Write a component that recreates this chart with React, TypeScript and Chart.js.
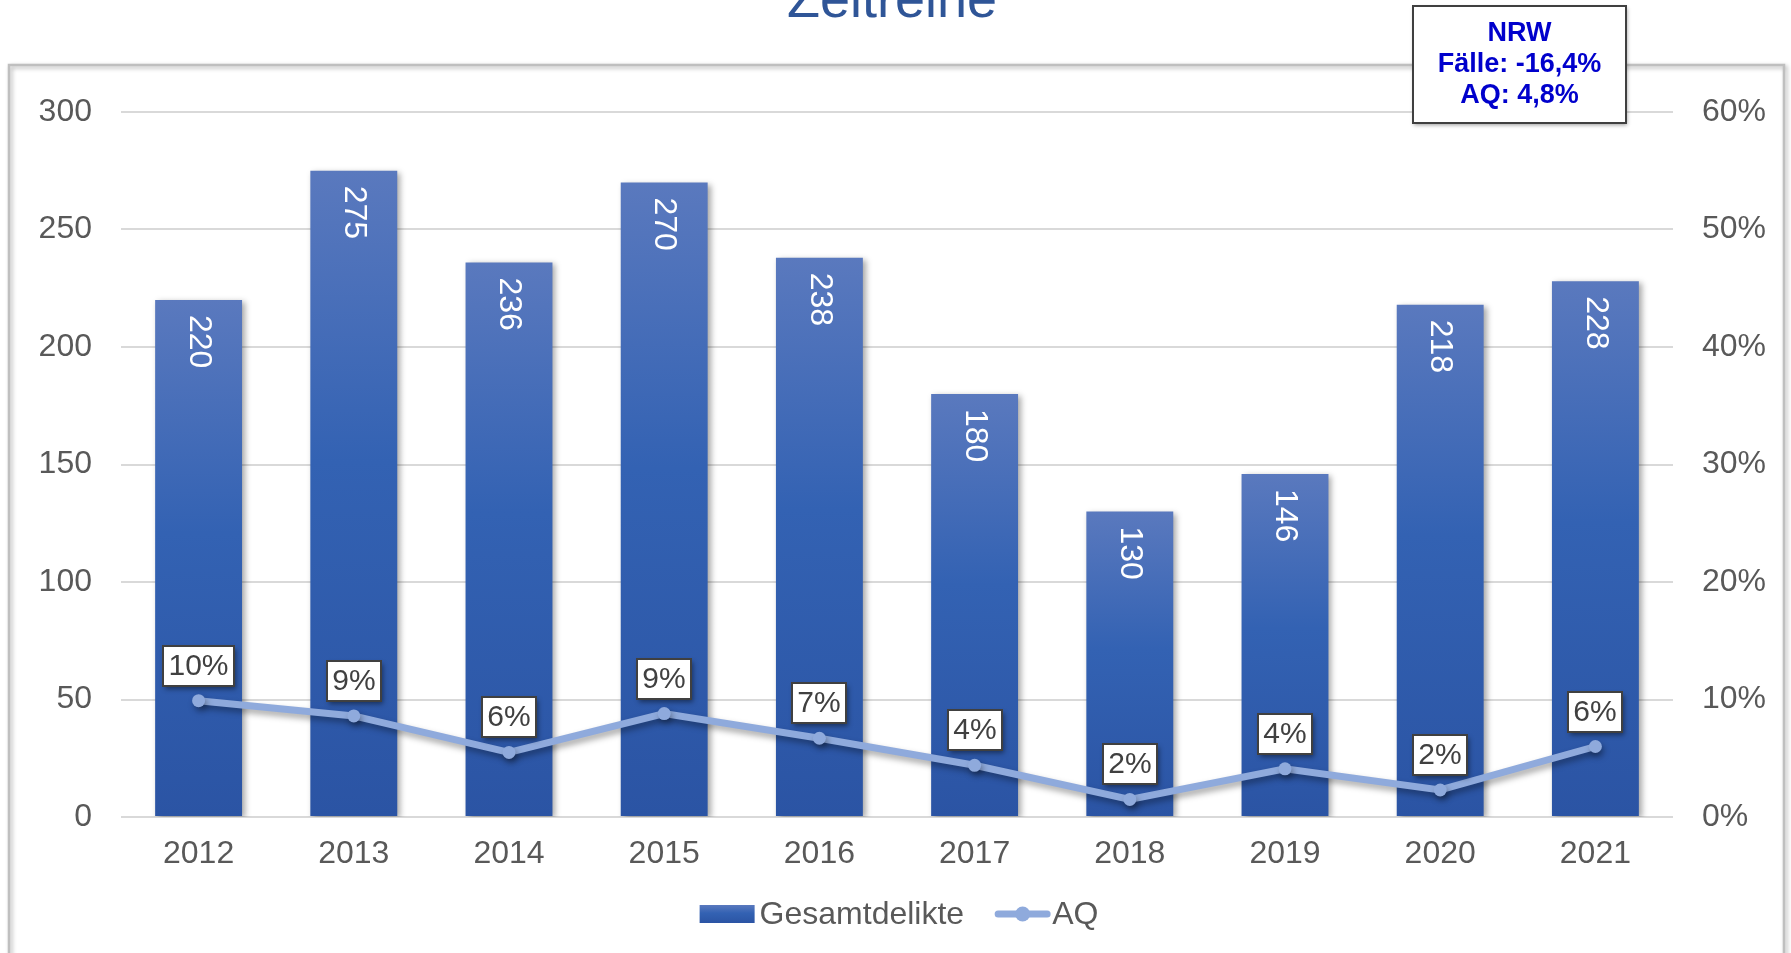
import React, { useEffect, useRef } from 'react';
import { Chart, registerables } from 'chart.js';

Chart.register(...registerables);

// ---------- data ----------
const categories = ['2012', '2013', '2014', '2015', '2016', '2017', '2018', '2019', '2020', '2021'];
const gesamtdelikte = [220, 275, 236, 270, 238, 180, 130, 146, 218, 228];
const aqPercent = [9.9, 8.6, 5.5, 8.8, 6.7, 4.4, 1.5, 4.1, 2.3, 6.0];
const seriesNames = ['Gesamtdelikte', 'AQ'];
const titleText = 'Zeitreihe';
const infoLines = ['NRW', 'Fälle: -16,4%', 'AQ: 4,8%'];
const leftAxis = { min: 0, max: 300, step: 50 };
const rightAxis = { min: 0, max: 60, step: 10 };

// ---------- style ----------
const FONT = "'Liberation Sans', Arial, Helvetica, sans-serif";
const W = 1791;
const H = 953;
const AXIS_GRAY = '#595959';
const LINE_COLOR = '#8FAADC';

function barGradient(c: CanvasRenderingContext2D, top: number, bottom: number) {
  if (!isFinite(top) || !isFinite(bottom) || top === bottom) return '#3362B3';
  const g = c.createLinearGradient(0, top, 0, bottom);
  g.addColorStop(0, '#5A79BE');
  g.addColorStop(0.45, '#3362B3');
  g.addColorStop(1, '#2B54A4');
  return g;
}

const backgroundPlugin = {
  id: 'bgFrame',
  beforeDraw(chart: any) {
    const ctx = chart.ctx as CanvasRenderingContext2D;
    ctx.save();
    ctx.fillStyle = '#ffffff';
    ctx.fillRect(0, 0, chart.width, chart.height);
    ctx.shadowColor = 'rgba(0,0,0,0.3)';
    ctx.shadowBlur = 4;
    ctx.shadowOffsetX = 2;
    ctx.shadowOffsetY = 2;
    ctx.strokeStyle = '#BFBFBF';
    ctx.lineWidth = 2.5;
    ctx.strokeRect(9, 65, 1775, 1000);
    ctx.restore();
  },
};

const shadowPlugin = {
  id: 'dsShadow',
  beforeDatasetDraw(chart: any, args: any) {
    const ctx = chart.ctx as CanvasRenderingContext2D;
    ctx.save();
    if (args.index === 0) {
      ctx.shadowColor = 'rgba(0,0,0,0.35)';
      ctx.shadowBlur = 6;
      ctx.shadowOffsetX = 3;
      ctx.shadowOffsetY = 2;
    } else {
      ctx.shadowColor = 'rgba(0,0,0,0.35)';
      ctx.shadowBlur = 6;
      ctx.shadowOffsetX = 2;
      ctx.shadowOffsetY = 4;
    }
  },
  afterDatasetDraw(chart: any) {
    chart.ctx.restore();
  },
};

const labelsPlugin = {
  id: 'valueLabels',
  afterDatasetsDraw(chart: any) {
    const ctx = chart.ctx as CanvasRenderingContext2D;
    ctx.save();
    // bar values, rotated inside top of bars
    const barMeta = chart.getDatasetMeta(0);
    ctx.font = `32px ${FONT}`;
    ctx.fillStyle = '#ffffff';
    ctx.textAlign = 'left';
    ctx.textBaseline = 'middle';
    barMeta.data.forEach((el: any, i: number) => {
      ctx.save();
      ctx.translate(el.x, el.y + 15);
      ctx.rotate(Math.PI / 2);
      ctx.fillText(String(gesamtdelikte[i]), 0, 0);
      ctx.restore();
    });
    // line labels in boxes
    const lineMeta = chart.getDatasetMeta(1);
    ctx.font = `30px ${FONT}`;
    lineMeta.data.forEach((el: any, i: number) => {
      const txt = Math.round(aqPercent[i]) + '%';
      const tw = ctx.measureText(txt).width;
      const w = Math.round(tw + 11);
      const h = 40;
      const bx = Math.round(el.x - w / 2);
      const by = Math.round(el.y - 15 - h);
      ctx.save();
      ctx.shadowColor = 'rgba(0,0,0,0.45)';
      ctx.shadowBlur = 5;
      ctx.shadowOffsetX = 2;
      ctx.shadowOffsetY = 3;
      ctx.fillStyle = '#ffffff';
      ctx.fillRect(bx, by, w, h);
      ctx.restore();
      ctx.strokeStyle = '#404040';
      ctx.lineWidth = 2;
      ctx.strokeRect(bx, by, w, h);
      ctx.textAlign = 'center';
      ctx.textBaseline = 'middle';
      ctx.fillStyle = '#404040';
      ctx.fillText(txt, bx + w / 2, by + h / 2 + 1);
    });
    ctx.restore();
  },
};

const decorPlugin = {
  id: 'decor',
  afterDraw(chart: any) {
    const ctx = chart.ctx as CanvasRenderingContext2D;
    ctx.save();
    // title (partly cut off at the top)
    ctx.font = `54px ${FONT}`;
    ctx.fillStyle = '#2F5597';
    ctx.textAlign = 'center';
    ctx.textBaseline = 'alphabetic';
    ctx.fillText(titleText, 892, 17);

    // info box
    const bx = 1413, by = 6, bw = 213, bh = 117;
    ctx.save();
    ctx.shadowColor = 'rgba(0,0,0,0.4)';
    ctx.shadowBlur = 4;
    ctx.shadowOffsetX = 1;
    ctx.shadowOffsetY = 2;
    ctx.fillStyle = '#ffffff';
    ctx.fillRect(bx, by, bw, bh);
    ctx.restore();
    ctx.strokeStyle = '#404040';
    ctx.lineWidth = 2;
    ctx.strokeRect(bx, by, bw, bh);
    ctx.font = `bold 27px ${FONT}`;
    ctx.fillStyle = '#0000CC';
    ctx.textBaseline = 'middle';
    const lineYs = [34, 65, 96];
    infoLines.forEach((t, i) => ctx.fillText(t, bx + bw / 2, lineYs[i]));

    // legend
    const ly = 914;
    ctx.font = `32px ${FONT}`;
    ctx.textAlign = 'left';
    ctx.fillStyle = AXIS_GRAY;
    const w1 = ctx.measureText(seriesNames[0]).width;
    const w2 = ctx.measureText(seriesNames[1]).width;
    const sw = 55, g1 = 5, g2 = 31, lw = 55, g3 = 2;
    const total = sw + g1 + w1 + g2 + lw + g3 + w2;
    let x = 899 - total / 2;
    ctx.fillStyle = barGradient(ctx, ly - 9, ly + 9);
    ctx.fillRect(x, ly - 9, sw, 18);
    x += sw + g1;
    ctx.fillStyle = AXIS_GRAY;
    ctx.fillText(seriesNames[0], x, ly + 1);
    x += w1 + g2;
    ctx.strokeStyle = LINE_COLOR;
    ctx.lineWidth = 7;
    ctx.lineCap = 'round';
    ctx.beginPath();
    ctx.moveTo(x + 3, ly);
    ctx.lineTo(x + lw - 3, ly);
    ctx.stroke();
    ctx.fillStyle = LINE_COLOR;
    ctx.beginPath();
    ctx.arc(x + lw / 2, ly, 7.5, 0, Math.PI * 2);
    ctx.fill();
    x += lw + g3;
    ctx.fillStyle = AXIS_GRAY;
    ctx.fillText(seriesNames[1], x, ly + 1);
    ctx.restore();
  },
};

export default function App() {
  const canvasRef = useRef<HTMLCanvasElement | null>(null);

  useEffect(() => {
    const canvas = canvasRef.current;
    if (!canvas) return;
    const chart = new Chart(canvas, {
      type: 'bar',
      data: {
        labels: categories,
        datasets: [
          {
            type: 'bar',
            label: seriesNames[0],
            data: gesamtdelikte,
            yAxisID: 'y',
            order: 1,
            barPercentage: 0.56,
            categoryPercentage: 1,
            borderWidth: 0,
            backgroundColor: (c: any) => {
              const ch = c.chart;
              if (c.type !== 'data' || !ch.scales || !ch.scales.y) return '#3362B3';
              const top = ch.scales.y.getPixelForValue(c.raw);
              const bottom = ch.scales.y.getPixelForValue(0);
              return barGradient(ch.ctx, top, bottom);
            },
          } as any,
          {
            type: 'line',
            label: seriesNames[1],
            data: aqPercent,
            yAxisID: 'y1',
            order: 0,
            borderColor: LINE_COLOR,
            backgroundColor: LINE_COLOR,
            borderWidth: 7,
            pointRadius: 6.5,
            pointBorderWidth: 0,
            pointBackgroundColor: LINE_COLOR,
            tension: 0,
            clip: false,
          } as any,
        ],
      },
      options: {
        animation: false,
        responsive: false,
        devicePixelRatio: 1,
        events: [],
        layout: { padding: { top: 112, left: 0, right: 0, bottom: 80 } },
        plugins: {
          legend: { display: false },
          title: { display: false },
          tooltip: { enabled: false },
        },
        scales: {
          x: {
            type: 'category',
            grid: { display: false, drawTicks: false },
            border: { display: false },
            ticks: {
              color: AXIS_GRAY,
              font: { family: FONT, size: 32 },
              padding: 18,
              maxRotation: 0,
              autoSkip: false,
            },
            afterFit: (s: any) => {
              s.height = 56;
            },
          },
          y: {
            type: 'linear',
            position: 'left',
            min: leftAxis.min,
            max: leftAxis.max,
            ticks: {
              stepSize: leftAxis.step,
              color: AXIS_GRAY,
              font: { family: FONT, size: 32 },
              padding: 29,
            },
            grid: { color: '#D9D9D9', lineWidth: 2, drawTicks: false },
            border: { display: false },
            afterFit: (s: any) => {
              s.width = 121;
            },
          },
          y1: {
            type: 'linear',
            position: 'right',
            min: rightAxis.min,
            max: rightAxis.max,
            ticks: {
              stepSize: rightAxis.step,
              color: AXIS_GRAY,
              font: { family: FONT, size: 32 },
              padding: 29,
              callback: (v: any) => v + '%',
            },
            grid: { display: false, drawTicks: false },
            border: { display: false },
            afterFit: (s: any) => {
              s.width = W - 1673;
            },
          },
        },
      },
      plugins: [backgroundPlugin, shadowPlugin, labelsPlugin, decorPlugin],
    } as any);
    return () => chart.destroy();
  }, []);

  return (
    <div style={{ position: 'fixed', left: 0, top: 0, width: W, height: H, background: '#fff' }}>
      <canvas ref={canvasRef} width={W} height={H} style={{ display: 'block', width: W, height: H }} />
    </div>
  );
}
